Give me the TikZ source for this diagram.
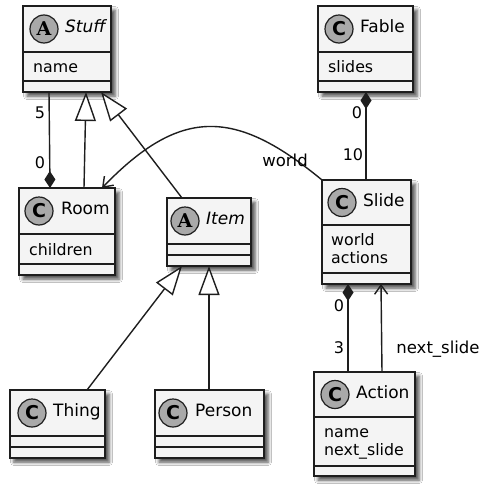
\documentclass[tikz,border=0pt]{standalone}
\usepackage{fontspec}
\setmainfont{DejaVu Sans}
\newfontfamily\badgeserif{DejaVu Serif}
\usetikzlibrary{arrows.meta,shadows.blur}

\definecolor{boxfill}{HTML}{F4F4F4}
\definecolor{edge}{HTML}{1E1E1E}
\definecolor{badgefill}{HTML}{A9A9A9}

\tikzset{
  classbox/.style={draw=edge, line width=2pt, fill=boxfill, anchor=north west,
    inner sep=0pt, outer sep=0pt,
    blur shadow={shadow xshift=4pt, shadow yshift=-4pt, shadow blur radius=3.5pt, shadow opacity=70}},
  divider/.style={draw=edge, line width=2pt},
  badge/.style={circle, draw=edge, line width=1.2pt, fill=badgefill, minimum size=28pt,
    inner sep=0pt, font=\fontsize{19}{19}\selectfont\bfseries},
  headtext/.style={anchor=west, inner sep=0pt, text height=0.73em, text depth=0pt,
    font=\fontsize{17}{17}\selectfont},
  attrtext/.style={anchor=base west, inner sep=0pt, font=\fontsize{15.8}{18}\selectfont},
  multtext/.style={inner sep=0pt, text height=0.73em, text depth=0pt,
    font=\fontsize{16}{16}\selectfont},
  rolelabel/.style={inner sep=0pt, font=\fontsize{16.5}{16.5}\selectfont},
  link/.style={draw=edge, line width=1.4pt},
  inherit/.style={link, -{Triangle[open, length=29pt, width=21pt, fill=white]}},
  compose/.style={link, {Diamond[length=17pt, width=11pt]}-},
  assoc/.style={link, -{Straight Barb[length=9pt, width=13pt]}},
}

% #1 name, #2 left, #3 top, #4 right, #5 first divider, #6 second divider, #7 bottom
\newcommand\classframe[7]{%
  \node[classbox, minimum width={(#4-#2)*1pt}, minimum height={(#7-#3)*1pt}] (#1) at (#2,#3) {};
  \draw[divider] (#2,#5) -- (#4,#5) (#2,#6) -- (#4,#6);
}

\begin{document}
\begin{tikzpicture}[x=1pt, y=-1pt]
  \fill[white] (0,0) rectangle (485,485);
  \useasboundingbox (0,0) rectangle (485,485);

  % Stuff (abstract)
  \classframe{stuff}{23}{6}{111}{52}{81}{92}
  \node[badge] (stuff-badge) at (44,29) {\badgeserif A};
  \node[headtext] (stuff-title) at (65,29) {\itshape Stuff};
  \node[attrtext] (stuff-name) at (33,72) {name};

  % Room
  \classframe{room}{19}{188}{115}{234}{264}{275}
  \node[badge] (room-badge) at (39,211) {C};
  \node[headtext] (room-title) at (61,211) {Room};
  \node[attrtext] (room-children) at (29,255) {children};

  % Item (abstract)
  \classframe{item}{167}{198}{251}{244}{255}{266}
  \node[badge] (item-badge) at (185,221) {\badgeserif A};
  \node[headtext] (item-title) at (206,221) {\itshape Item};

  % Fable
  \classframe{fable}{318}{6}{413}{52}{81}{92}
  \node[badge] (fable-badge) at (339,29) {C};
  \node[headtext] (fable-title) at (360,29) {Fable};
  \node[attrtext] (fable-slides) at (328,72) {slides};

  % Slide
  \classframe{slide}{322}{180}{411}{225}{273}{284}
  \node[badge] (slide-badge) at (342,202.5) {C};
  \node[headtext] (slide-title) at (363,202.5) {Slide};
  \node[attrtext] (slide-world) at (331,245) {world};
  \node[attrtext] (slide-actions) at (331,263) {actions};

  % Thing
  \classframe{thing}{10}{390}{105}{436}{447}{458}
  \node[badge] (thing-badge) at (32,413) {C};
  \node[headtext] (thing-title) at (53,413) {Thing};

  % Person
  \classframe{person}{155}{390}{264}{436}{447}{458}
  \node[badge] (person-badge) at (173,413) {C};
  \node[headtext] (person-title) at (195,413) {Person};

  % Action
  \classframe{action}{314}{372}{415}{417}{466}{476}
  \node[badge] (action-badge) at (335,394.5) {C};
  \node[headtext] (action-title) at (356,394.5) {Action};
  \node[attrtext] (action-name) at (324,437) {name};
  \node[attrtext] (action-next) at (324,455) {next\_slide};

  % Relations
  \draw[compose] ([xshift=31pt]room.north west) -- ([xshift=26pt]stuff.south west);
  \draw[inherit] ([xshift=65pt]room.north west) -- ([xshift=63pt]stuff.south west);
  \draw[inherit] ([xshift=15pt]item.north west) -- ([xshift=78pt]stuff.south west);
  \draw[assoc] (slide.north west) .. controls (236,109) and (181,106) .. ([xshift=83pt]room.north west);
  \draw[compose] ([xshift=48pt]fable.south west) -- ([xshift=44pt]slide.north west);
  \draw[compose] ([xshift=26pt]slide.south west) -- ([xshift=34pt]action.north west);
  \draw[assoc] ([xshift=68pt]action.north west) -- ([xshift=59pt]slide.south west);
  \draw[inherit] ([xshift=77pt]thing.north west) -- ([xshift=15pt]item.south west);
  \draw[inherit] ([xshift=54pt]person.north west) -- ([xshift=42pt]item.south west);

  % Multiplicities and role names
  \node[multtext] (m-stuff) at (40,115) {5};
  \node[multtext] (m-room) at (40,165) {0};
  \node[multtext] (m-fable) at (357,115) {0};
  \node[multtext] (m-slide-top) at (353,157) {10};
  \node[multtext] (m-slide-bottom) at (339,308) {0};
  \node[multtext] (m-action) at (339,350) {3};
  \node[rolelabel] (r-world) at (285,160) {world};
  \node[rolelabel] (r-next) at (438,349) {next\_slide};
\end{tikzpicture}
\end{document}
